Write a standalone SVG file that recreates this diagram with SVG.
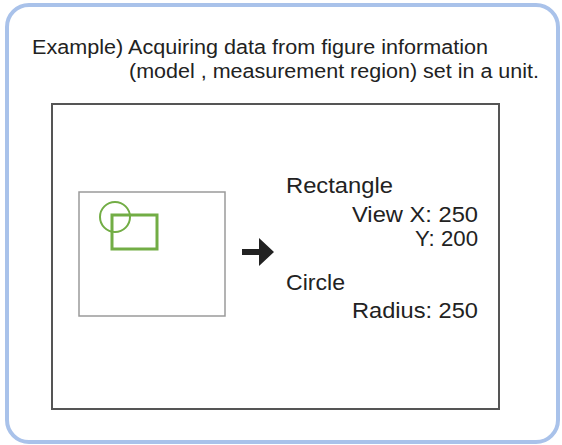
<svg xmlns="http://www.w3.org/2000/svg" width="562" height="445" viewBox="0 0 562 445">
<style>
.t{font-family:"Liberation Sans",Arial,sans-serif;fill:#222}
.h{font-size:20px}
.r{font-size:22px}
</style>
<rect width="562" height="445" fill="#fff"/>
<rect id="frame" x="7" y="5" width="551" height="437" rx="22" ry="22" fill="#fff" stroke="#a9c2ea" stroke-width="4"/>
<g id="header">
<text class="t h" x="32" y="54" textLength="456" lengthAdjust="spacingAndGlyphs">Example) Acquiring data from figure information</text>
<text class="t h" x="129" y="78" textLength="410" lengthAdjust="spacingAndGlyphs">(model , measurement region) set in a unit.</text>
</g>
<g id="screen">
<rect x="52" y="104" width="447" height="305" fill="#fff" stroke="#555" stroke-width="2"/>
</g>
<g id="image">
<rect x="79" y="192" width="146" height="124" fill="#fff" stroke="#9a9a9a" stroke-width="1.5"/>
<circle cx="115" cy="217" r="15" fill="none" stroke="#72ad45" stroke-width="2"/>
<rect x="112" y="215" width="45" height="34" fill="none" stroke="#72ad45" stroke-width="3"/>
</g>
<g id="connectors">
<path d="M242,249 H259 V238 L274,252 L259,266 V255 H242 Z" fill="#222"/>
</g>
<g id="values">
<text class="t r" x="286" y="193" textLength="107" lengthAdjust="spacingAndGlyphs">Rectangle</text>
<text class="t r" x="352" y="222" textLength="126" lengthAdjust="spacingAndGlyphs">View X: 250</text>
<text class="t r" x="415" y="246" textLength="63" lengthAdjust="spacingAndGlyphs">Y: 200</text>
<text class="t r" x="286" y="290" textLength="59" lengthAdjust="spacingAndGlyphs">Circle</text>
<text class="t r" x="352" y="318" textLength="126" lengthAdjust="spacingAndGlyphs">Radius: 250</text>
</g>
</svg>
